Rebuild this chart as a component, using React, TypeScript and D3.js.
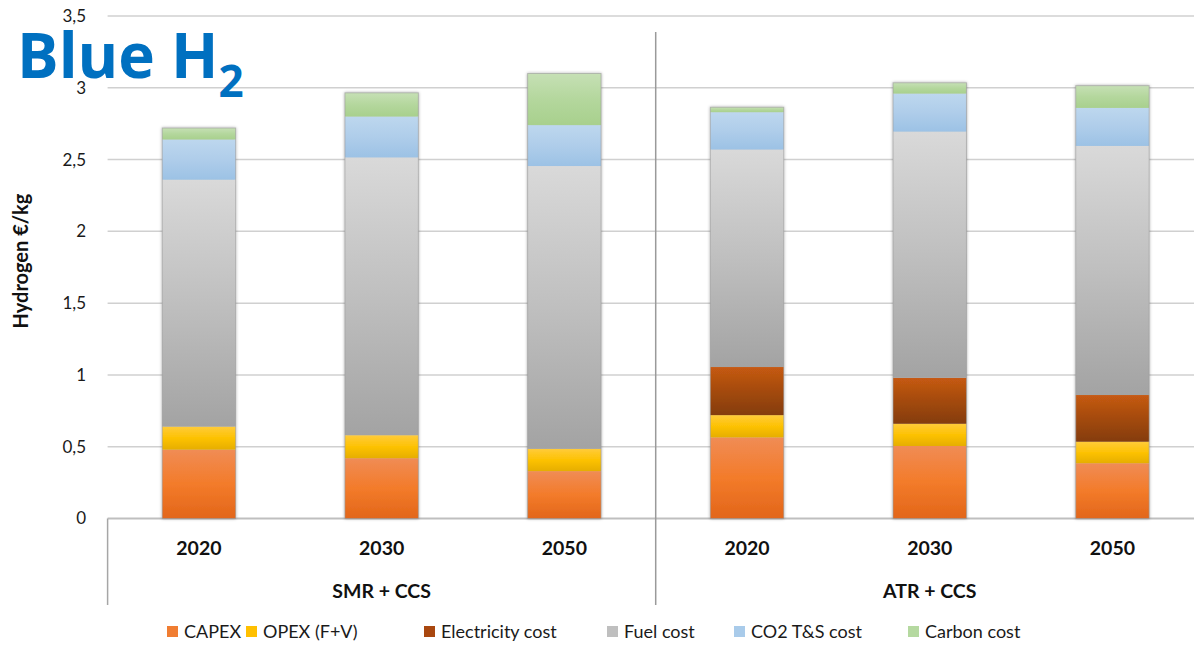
import React from "react";
import * as d3 from "d3";

// Cost components of blue hydrogen (€/kg H2)
const groups = ["SMR + CCS", "ATR + CCS"];
const years = ["2020", "2030", "2050"];
const seriesNames = ["CAPEX", "OPEX (F+V)", "Electricity cost", "Fuel cost", "CO2 T&S cost", "Carbon cost"];

const capex = [0.48, 0.42, 0.33, 0.565, 0.505, 0.385];
const opex = [0.16, 0.16, 0.155, 0.155, 0.155, 0.15];
const electricity = [0, 0, 0, 0.335, 0.32, 0.325];
const fuel = [1.72, 1.935, 1.97, 1.515, 1.715, 1.735];
const co2ts = [0.28, 0.285, 0.285, 0.26, 0.265, 0.265];
const carbon = [0.08, 0.165, 0.36, 0.035, 0.075, 0.155];

const yTicks = [0, 0.5, 1, 1.5, 2, 2.5, 3, 3.5];
const yTickLabels = ["0", "0,5", "1", "1,5", "2", "2,5", "3", "3,5"];

const W = 1194;
const H = 645;
const FONT = "Lato, 'Open Sans', sans-serif";

// gradient stops per series: [top, middle, bottom]
const gradients = [
  ["#F08C55", "#F37B2A", "#E2661A"],
  ["#FFCB3A", "#FDC203", "#E6AE00"],
  ["#C65A12", "#A44A0F", "#843C0C"],
  ["#D9D9D9", "#BFBFBF", "#A3A3A3"],
  ["#BDD7EE", "#AFCDEA", "#9CC2E5"],
  ["#C6E0B5", "#B4D79D", "#A8D08D"],
];
const swatch = ["#F07D32", "#FFC000", "#A9470F", "#BFBFBF", "#A9CBEA", "#B5D9A0"];

export default function App() {
  const keys = groups.flatMap((g) => years.map((y) => `${g}|${y}`));
  const x = d3
    .scaleBand<string>()
    .domain(keys)
    .range([107.6, 1203.8])
    .paddingInner(0.598)
    .paddingOuter(0.299);
  const y = d3.scaleLinear().domain([0, 3.5]).range([518.5, 16]);

  const table = keys.map((k, i) => ({
    key: k,
    CAPEX: capex[i],
    "OPEX (F+V)": opex[i],
    "Electricity cost": electricity[i],
    "Fuel cost": fuel[i],
    "CO2 T&S cost": co2ts[i],
    "Carbon cost": carbon[i],
  }));
  const stacked = d3.stack<any>().keys(seriesNames)(table);

  const plotLeft = 107.6;
  const step = x.step();
  const groupWidth = step * years.length;
  const sepX = plotLeft + groupWidth;

  const legendX = [167, 246, 424, 607, 734, 908];

  return (
    <svg
      width={W}
      height={H}
      style={{ position: "absolute", left: 0, top: 0, background: "#fff" }}
      fontFamily={FONT}
    >
      <defs>
        {gradients.map((g, i) => (
          <linearGradient key={i} id={`grad${i}`} x1="0" y1="0" x2="0" y2="1">
            <stop offset="0%" stopColor={g[0]} />
            <stop offset="50%" stopColor={g[1]} />
            <stop offset="100%" stopColor={g[2]} />
          </linearGradient>
        ))}
        <filter id="shadow" x="-20%" y="-5%" width="140%" height="110%">
          <feDropShadow dx="0" dy="0" stdDeviation="1.6" floodColor="#000" floodOpacity="0.35" />
        </filter>
      </defs>

      {/* gridlines */}
      {yTicks.map((t) => (
        <line
          key={t}
          x1={plotLeft}
          x2={W}
          y1={y(t)}
          y2={y(t)}
          stroke={t === 0 ? "#BFBFBF" : "#D0D0D0"}
          strokeWidth={t === 0 ? 2 : 1.5}
        />
      ))}

      {/* tick labels */}
      {yTicks.map((t, i) => (
        <text
          key={t}
          x={86}
          y={y(t)}
          dy="0.35em"
          textAnchor="end"
          fontSize={17}
          fill="#1a1a1a"
        >
          {yTickLabels[i]}
        </text>
      ))}

      {/* group separators */}
      <line x1={plotLeft} x2={plotLeft} y1={y(0)} y2={605} stroke="#A6A6A6" strokeWidth={1.5} />
      <line x1={sepX} x2={sepX} y1={32} y2={605} stroke="#9A9A9A" strokeWidth={1.5} />

      {/* stacked bars */}
      {table.map((row, i) => (
        <g key={row.key} filter="url(#shadow)">
          {stacked.map((s, si) => {
            const d = s[i];
            const h = y(d[0]) - y(d[1]);
            if (h <= 0) return null;
            return (
              <rect
                key={s.key}
                x={x(row.key)}
                y={y(d[1])}
                width={x.bandwidth()}
                height={h}
                fill={`url(#grad${si})`}
              />
            );
          })}
          <rect
            x={x(row.key)}
            y={y(stacked[stacked.length - 1][i][1])}
            width={x.bandwidth()}
            height={y(0) - y(stacked[stacked.length - 1][i][1])}
            fill="none"
            stroke="#9A9A9A"
            strokeOpacity={0.6}
            strokeWidth={1}
          />
        </g>
      ))}

      {/* category labels */}
      {keys.map((k) => (
        <text
          key={k}
          x={(x(k) as number) + x.bandwidth() / 2}
          y={548}
          dy="0.35em"
          textAnchor="middle"
          fontSize={19.5}
          fontWeight="bold"
          fill="#111"
        >
          {k.split("|")[1]}
        </text>
      ))}
      {groups.map((g, gi) => (
        <text
          key={g}
          x={plotLeft + groupWidth * gi + groupWidth / 2}
          y={591}
          dy="0.35em"
          textAnchor="middle"
          fontSize={19.5}
          fontWeight="bold"
          fill="#111"
        >
          {g}
        </text>
      ))}

      {/* axis title */}
      <text
        transform={`translate(21,${261}) rotate(-90)`}
        textAnchor="middle"
        dy="0.35em"
        fontSize={20}
        fontWeight="bold"
        fill="#111"
      >
        Hydrogen €/kg
      </text>

      {/* title */}
      <text
        x={17}
        y={78}
        fontSize={62}
        fontWeight="bold"
        fill="#0070C0"
        fontFamily="'Open Sans', Lato, sans-serif"
      >
        Blue H
        <tspan fontSize={44} dy={19}>2</tspan>
      </text>

      {/* legend */}
      {seriesNames.map((n, i) => (
        <g key={n} transform={`translate(${legendX[i]},632)`}>
          <rect x={0} y={-6} width={11} height={11} fill={swatch[i]} />
          <text x={17} y={0} dy="0.35em" fontSize={18} fill="#1a1a1a">
            {n}
          </text>
        </g>
      ))}
    </svg>
  );
}
